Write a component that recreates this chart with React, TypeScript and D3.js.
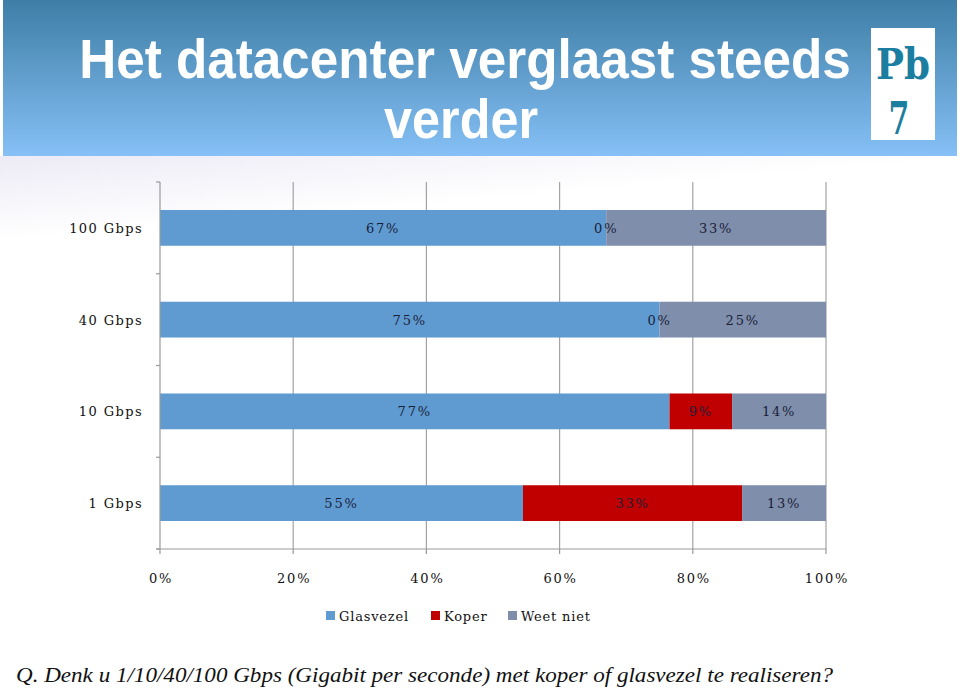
import React, { useEffect, useRef } from 'react';
import * as d3 from 'd3';

const categories = ['100 Gbps', '40 Gbps', '10 Gbps', '1 Gbps'];
const glasvezel = [67, 75, 76.5, 54.5];
const koper = [0, 0, 9.4, 32.9];
const weetNiet = [33, 25, 14.1, 12.6];
const seriesNames = ['Glasvezel', 'Koper', 'Weet niet'];
const xTicks = [0, 20, 40, 60, 80, 100];

const colors = ['#5f9bd1', '#c00000', '#7f8eab'];

// squeeze a text horizontally so it fills `w` pixels, centred on cx
const fitText = (t: any, cx: number, by: number, w: number) => {
  const natural = (t.node() as SVGTextElement).getComputedTextLength() || w;
  t.attr('transform', `translate(${cx},${by}) scale(${w / natural},1)`);
};

const App = () => {
  const ref = useRef<SVGSVGElement>(null);

  useEffect(() => {
    const svg = d3.select(ref.current);
    svg.selectAll('*').remove();

    const width = 960;
    const height = 688;
    const margin = { top: 182, right: 134, bottom: 139, left: 160 };

    const defs = svg.append('defs');
    const hg = defs.append('linearGradient').attr('id', 'hdr').attr('x1', 0).attr('y1', 0).attr('x2', 0).attr('y2', 1);
    hg.append('stop').attr('offset', '0%').attr('stop-color', '#3e7ea6');
    hg.append('stop').attr('offset', '100%').attr('stop-color', '#86c0f6');
    const bg = defs.append('linearGradient').attr('id', 'bg').attr('x1', 0).attr('y1', 0).attr('x2', 0.6).attr('y2', 1);
    bg.append('stop').attr('offset', '0%').attr('stop-color', '#ecebf6');
    bg.append('stop').attr('offset', '45%').attr('stop-color', '#ffffff');

    svg.append('rect').attr('width', width).attr('height', height).attr('fill', '#fff');
    svg.append('rect').attr('y', 156).attr('width', width).attr('height', 140).attr('fill', 'url(#bg)');
    svg.append('rect').attr('x', 3).attr('width', width - 6).attr('height', 156).attr('fill', 'url(#hdr)');

    // title
    const title = svg.append('g').attr('fill', '#fff').attr('font-family', 'Liberation Sans, Arial, sans-serif').attr('font-weight', 'bold').attr('text-anchor', 'middle');
    const t1 = title.append('text').attr('font-size', 56).text('Het datacenter verglaast steeds');
    fitText(t1, 465, 78, 772);
    const t2 = title.append('text').attr('font-size', 56).text('verder');
    fitText(t2, 461, 138, 154);

    // logo
    svg.append('rect').attr('x', 871).attr('y', 28).attr('width', 64).attr('height', 112).attr('fill', '#fff');
    const logo = svg.append('g').attr('fill', '#1b7da0').attr('font-family', 'DejaVu Serif, serif').attr('font-weight', 'bold').attr('text-anchor', 'middle');
    logo.append('text').attr('transform', 'translate(903,79) scale(1,1.5)').attr('font-size', 28).attr('textLength', 54).attr('lengthAdjust', 'spacingAndGlyphs').text('Pb');
    logo.append('text').attr('transform', 'translate(899,134) scale(1,1.5)').attr('font-size', 30).text('7');

    const x = d3.scaleLinear().domain([0, 100]).range([margin.left, width - margin.right]);
    const y = d3.scaleBand<string>().domain(categories).range([margin.top, height - margin.bottom]).paddingInner(0.61).paddingOuter(0.305);

    const font = 'DejaVu Serif, Liberation Serif, serif';

    // grid
    svg.append('g').selectAll('line').data(xTicks.slice(1)).enter().append('line')
      .attr('x1', (d) => x(d)).attr('x2', (d) => x(d))
      .attr('y1', margin.top).attr('y2', height - margin.bottom)
      .attr('stroke', '#a3a3a3').attr('stroke-width', 1.2);

    // bars
    const table = categories.map((c, i) => ({ cat: c, Glasvezel: glasvezel[i], Koper: koper[i], 'Weet niet': weetNiet[i] }));
    const stacked = d3.stack<any>().keys(seriesNames)(table);
    const layers = svg.append('g').selectAll('g').data(stacked).enter().append('g').attr('fill', (_d, i) => colors[i]);
    layers.selectAll('rect').data((d) => d).enter().append('rect')
      .attr('x', (d) => x(d[0]))
      .attr('y', (d) => y(d.data.cat) as number)
      .attr('width', (d) => x(d[1]) - x(d[0]))
      .attr('height', y.bandwidth());

    // segment labels, drawn after every bar
    const labels = svg.append('g').selectAll('g').data(stacked).enter().append('g');
    labels.selectAll('text').data((d) => d).enter().append('text')
      .attr('x', (d) => (x(d[0]) + x(d[1])) / 2)
      .attr('y', (d) => (y(d.data.cat) as number) + y.bandwidth() / 2 + 5)
      .attr('text-anchor', 'middle')
      .attr('font-family', font).attr('font-size', 13).attr('letter-spacing', 1.8)
      .attr('fill', '#1a1f3a')
      .text((d) => Math.round(d[1] - d[0]) + '%');

    // y axis
    const ya = svg.append('g').attr('stroke', '#9a9a9a').attr('stroke-width', 1.2);
    ya.append('line').attr('x1', margin.left).attr('x2', margin.left).attr('y1', margin.top).attr('y2', height - margin.bottom);
    const yEdges = categories.map((c) => (y(c) as number) - (y.step() * y.paddingInner()) / 2).concat([height - margin.bottom]);
    ya.selectAll('.yt').data(yEdges).enter().append('line')
      .attr('x1', margin.left - 4).attr('x2', margin.left).attr('y1', (d) => d).attr('y2', (d) => d);
    svg.append('g').selectAll('text').data(categories).enter().append('text')
      .attr('x', 143).attr('y', (d) => (y(d) as number) + y.bandwidth() / 2 + 5)
      .attr('text-anchor', 'end').attr('font-family', font).attr('font-size', 13).attr('letter-spacing', 1.4)
      .attr('fill', '#111').text((d) => d);

    // x axis
    const xa = svg.append('g').attr('stroke', '#9a9a9a').attr('stroke-width', 1.2);
    xa.append('line').attr('x1', margin.left - 4).attr('x2', x(100)).attr('y1', height - margin.bottom).attr('y2', height - margin.bottom);
    xa.selectAll('.xt').data(xTicks).enter().append('line')
      .attr('x1', (d) => x(d)).attr('x2', (d) => x(d))
      .attr('y1', height - margin.bottom).attr('y2', height - margin.bottom + 5);
    svg.append('g').selectAll('text').data(xTicks).enter().append('text')
      .attr('x', (d) => x(d) + 1).attr('y', 583)
      .attr('text-anchor', 'middle').attr('font-family', font).attr('font-size', 13).attr('letter-spacing', 1.8)
      .attr('fill', '#111').text((d) => d + '%');

    // legend
    const legX = [326, 431, 508];
    const leg = svg.append('g').selectAll('g').data(seriesNames).enter().append('g')
      .attr('transform', (_d, i) => `translate(${legX[i]},611)`);
    leg.append('rect').attr('width', 9).attr('height', 9).attr('fill', (_d, i) => colors[i]);
    leg.append('text').attr('x', 13).attr('y', 10).attr('font-family', font).attr('font-size', 13).attr('letter-spacing', 0.8)
      .attr('fill', '#111').text((d) => d);

    // question
    svg.append('text').attr('x', 16).attr('y', 682)
      .attr('font-family', 'Liberation Serif, serif').attr('font-style', 'italic').attr('font-size', 20)
      .attr('textLength', 817).attr('lengthAdjust', 'spacingAndGlyphs').attr('fill', '#111')
      .text('Q. Denk u  1/10/40/100 Gbps (Gigabit per seconde) met koper of glasvezel te realiseren?');
  }, []);

  return (
    <svg ref={ref} width={960} height={688} style={{ position: 'absolute', left: 0, top: 0, display: 'block' }} />
  );
};

export default App;
